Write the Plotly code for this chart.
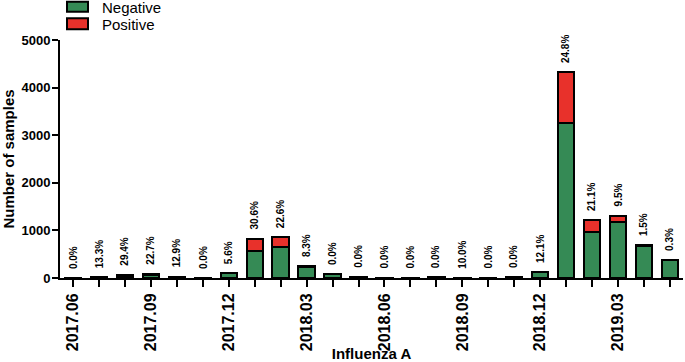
import plotly.graph_objects as go

months = ["2017.06", "2017.07", "2017.08", "2017.09", "2017.10", "2017.11",
          "2017.12", "2018.01", "2018.02", "2018.03", "2018.04", "2018.05",
          "2018.06", "2018.07", "2018.08", "2018.09", "2018.10", "2018.11",
          "2018.12", "2019.01", "2019.02", "2019.03", "2019.04", "2019.05"]
negative = [8, 13, 48, 68, 27, 6, 101, 572, 659, 232, 84, 25,
            10, 8, 12, 9, 8, 15, 116, 3256, 964, 1182, 673, 368]
positive = [0, 2, 20, 20, 4, 0, 6, 252, 192, 21, 0, 0,
            0, 0, 0, 1, 0, 0, 16, 1074, 258, 124, 10, 1]
pct_labels = ["0.0%", "13.3%", "29.4%", "22.7%", "12.9%", "0.0%",
              "5.6%", "30.6%", "22.6%", "8.3%", "0.0%", "0.0%",
              "0.0%", "0.0%", "0.0%", "10.0%", "0.0%", "0.0%",
              "12.1%", "24.8%", "21.1%", "9.5%", "1.5%", "0.3%"]
shown_ticks = ["2017.06", "2017.09", "2017.12", "2018.03", "2018.06",
               "2018.09", "2018.12", "2019.03"]
y_ticks = [0, 1000, 2000, 3000, 4000, 5000]

GREEN = "#358A55"
RED = "#E8312B"
FONT = "Liberation Sans, Arial, sans-serif"

W, H = 685, 362
ML, MR, MT, MB = 60, 2, 40, 84
PW, PH = W - ML - MR, H - MT - MB


def px(x):
    return (x - ML) / PW


def py(y):
    return (H - MB - y) / PH


fig = go.Figure()
fig.add_trace(go.Bar(x=months, y=negative, name="Negative",
                     marker=dict(color=GREEN, line=dict(color="black", width=2)),
                     width=0.63))
fig.add_trace(go.Bar(x=months, y=positive, name="Positive",
                     marker=dict(color=RED, line=dict(color="black", width=2)),
                     width=0.63))

totals = [n + p for n, p in zip(negative, positive)]
for i, (t, lab) in enumerate(zip(totals, pct_labels)):
    fig.add_annotation(x=i, y=t, text=lab, textangle=-90, showarrow=False,
                       xanchor="center", yanchor="bottom", yshift=7,
                       font=dict(family=FONT, size=10, color="black", weight="bold"))

# legend drawn manually
legend_items = [("Negative", GREEN, 1.7, 11.7, 7.5), ("Positive", RED, 18.3, 29.3, 24.5)]
for name, col, y0, y1, yc in legend_items:
    fig.add_shape(type="rect", xref="paper", yref="paper",
                  x0=px(67), x1=px(88), y0=py(y1), y1=py(y0),
                  fillcolor=col, line=dict(color="black", width=2))
    fig.add_annotation(xref="paper", yref="paper", x=px(100), y=py(yc), text=name,
                       showarrow=False, xanchor="left", yanchor="middle",
                       font=dict(family=FONT, size=15, color="black"))

fig.update_layout(
    width=W, height=H, barmode="stack", showlegend=False,
    margin=dict(l=ML, r=MR, t=MT, b=MB, autoexpand=False),
    plot_bgcolor="white", paper_bgcolor="white",
    font=dict(family=FONT, color="black"),
    xaxis=dict(type="category", tickmode="array", tickvals=months,
               ticktext=[m if m in shown_ticks else "" for m in months],
               tickangle=-90, ticks="outside", ticklen=7, tickwidth=2,
               tickcolor="black", showline=True, linewidth=2, linecolor="black",
               showgrid=False, range=[-0.5, 23.5],
               tickfont=dict(family=FONT, size=16, color="black", weight="bold"),
               title=dict(text="Influenza A", standoff=4,
                          font=dict(family=FONT, size=15, color="black", weight="bold"))),
    yaxis=dict(range=[0, 5000], tickvals=y_ticks, ticks="outside", ticklen=6,
               tickwidth=2, tickcolor="black", showline=True, linewidth=2,
               linecolor="black", showgrid=False, zeroline=False,
               ticklabelstandoff=-1,
               tickfont=dict(family=FONT, size=13, color="black", weight="bold"),
               title=dict(text="Number of samples", standoff=11,
                          font=dict(family=FONT, size=15, color="black", weight="bold"))),
)

fig.write_html("out.html", config={"displayModeBar": False},
               post_script="document.body.style.margin='0';document.body.style.overflow='hidden';")
